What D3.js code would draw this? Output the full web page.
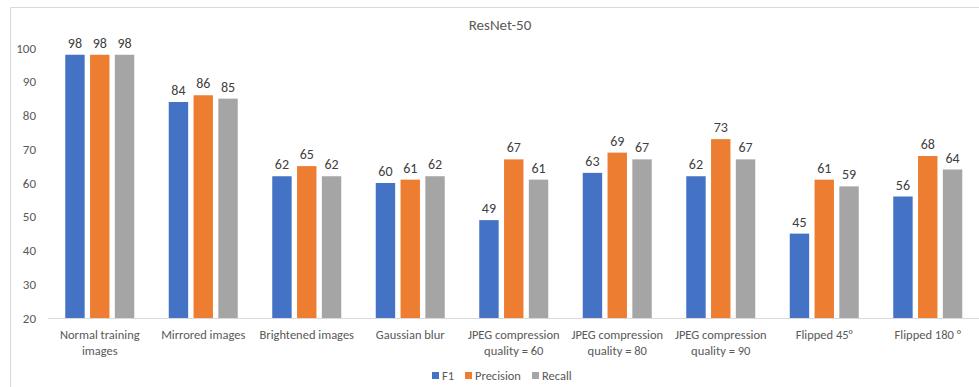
<!DOCTYPE html>
<html>
<head>
<meta charset="utf-8">
<script src="https://cdn.jsdelivr.net/npm/d3@7/dist/d3.min.js"></script>
<style>
  html, body { margin: 0; padding: 0; background: #fff; }
  svg { display: block; font-family: Carlito, Lato, "Open Sans", sans-serif; }
</style>
</head>
<body>
<svg id="chart" width="979" height="387"></svg>
<script>
// Category labels (two-line labels split on "\n")
const categories = [
  "Normal training\nimages",
  "Mirrored images",
  "Brightened images",
  "Gaussian blur",
  "JPEG compression\nquality = 60",
  "JPEG compression\nquality = 80",
  "JPEG compression\nquality = 90",
  "Flipped 45°",
  "Flipped 180 °"
];
const seriesNames = ["F1", "Precision", "Recall"];
const f1 =        [98, 84, 62, 60, 49, 63, 62, 45, 56];
const precision = [98, 86, 65, 61, 67, 69, 73, 61, 68];
const recall =    [98, 85, 62, 62, 61, 67, 67, 59, 64];
const yTicks = [20, 30, 40, 50, 60, 70, 80, 90, 100];
const colors = ["#4472C4", "#ED7D31", "#A5A5A5"];

const seriesValues = [f1, precision, recall];
const svg = d3.select("#chart");

// chart frame
svg.append("path")
  .attr("d", "M10.5,400 L10.5,7.5 L990,7.5")
  .attr("fill", "none").attr("stroke", "#d9d9d9").attr("stroke-width", 1);

const plot = { left: 48, right: 979.5, top: 48, bottom: 318 };

const x0 = d3.scaleBand().domain(categories).range([plot.left, plot.right]);
const x1 = d3.scaleBand().domain(seriesNames).range([-34.5, 34.5]).paddingInner(0.217);
const y = d3.scaleLinear().domain([20, 100]).range([plot.bottom, plot.top]);

// title
svg.append("text")
  .attr("x", 500).attr("y", 30)
  .attr("text-anchor", "middle")
  .attr("font-size", 15).attr("fill", "#595959")
  .text("ResNet-50");

// y axis labels
const yAxis = d3.axisLeft(y).tickValues(yTicks).tickSize(0).tickPadding(12);
const yG = svg.append("g").attr("transform", `translate(${plot.left},0)`).call(yAxis);
yG.select(".domain").remove();
yG.selectAll("text").attr("font-size", 13).attr("fill", "#595959")
  .attr("font-family", "Carlito, Lato, 'Open Sans', sans-serif");

// bars
const rows = categories.map((c, i) => ({ cat: c, vals: seriesNames.map((s, j) => ({ s, j, v: seriesValues[j][i] })) }));
const groups = svg.append("g").selectAll("g").data(rows).join("g")
  .attr("transform", d => `translate(${x0(d.cat) + x0.bandwidth() / 2},0)`);

groups.selectAll("rect").data(d => d.vals).join("rect")
  .attr("x", d => x1(d.s))
  .attr("width", x1.bandwidth())
  .attr("y", d => y(d.v))
  .attr("height", d => y(20) - y(d.v))
  .attr("fill", d => colors[d.j]);

groups.selectAll("text.val").data(d => d.vals).join("text")
  .attr("class", "val")
  .attr("x", d => x1(d.s) + x1.bandwidth() / 2)
  .attr("y", d => y(d.v) - 7)
  .attr("text-anchor", "middle")
  .attr("font-size", 14).attr("fill", "#404040")
  .text(d => d.v);

// x axis baseline
svg.append("line")
  .attr("x1", plot.left).attr("x2", plot.right)
  .attr("y1", y(20) + 0.5).attr("y2", y(20) + 0.5)
  .attr("stroke", "#d9d9d9").attr("stroke-width", 1);

// category labels
const catG = svg.append("g");
categories.forEach(c => {
  const t = catG.append("text")
    .attr("x", x0(c) + x0.bandwidth() / 2)
    .attr("y", 339)
    .attr("text-anchor", "middle")
    .attr("font-size", 12.5).attr("fill", "#595959");
  c.split("\n").forEach((line, k) => {
    t.append("tspan").attr("x", x0(c) + x0.bandwidth() / 2).attr("dy", k === 0 ? 0 : 16).text(line);
  });
});

// legend
const legendItems = [
  { name: "F1", x: 432 },
  { name: "Precision", x: 465 },
  { name: "Recall", x: 532 }
];
const lg = svg.append("g");
legendItems.forEach((it, i) => {
  lg.append("rect").attr("x", it.x).attr("y", 372).attr("width", 7).attr("height", 7).attr("fill", colors[i]);
  lg.append("text").attr("x", it.x + 10).attr("y", 379.5)
    .attr("font-size", 12.5).attr("fill", "#595959").text(it.name);
});
</script>
</body>
</html>
